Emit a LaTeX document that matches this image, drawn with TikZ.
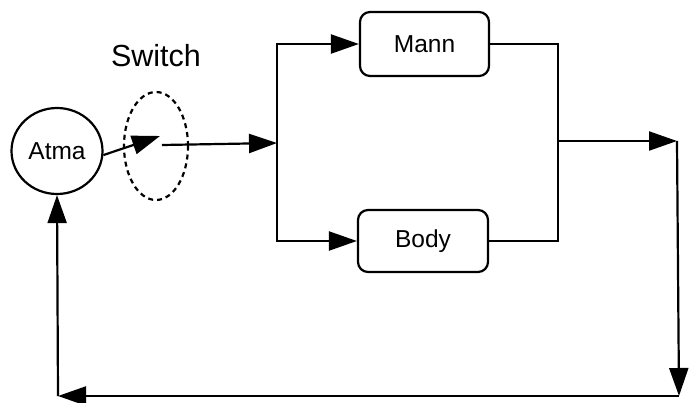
\documentclass[tikz,border=0pt]{standalone}
\usepackage{fontspec}
\setmainfont{Liberation Sans}
\usetikzlibrary{arrows.meta,shapes.geometric}
\begin{document}
\begin{tikzpicture}[x=1pt,y=-1pt,
  line width=2.2pt,
  arr/.style={-{Triangle[length=28pt,width=19pt]}},
  lbl/.style={font=\fontsize{24.5}{28}\selectfont},
  boxst/.style={draw,rounded corners=10pt,lbl,inner sep=0pt},
  every node/.style={line width=2.2pt}]
\useasboundingbox (0,0) rectangle (696,402);
\node[draw,ellipse,minimum width=91pt,minimum height=86pt,inner sep=0pt,lbl] (atma) at (57,151) {Atma};
\node[draw,ellipse,dash pattern=on 5pt off 4pt,minimum width=64pt,minimum height=108pt,inner sep=0pt] (sw) at (156,146) {};
\node[font=\fontsize{30.5}{34}\selectfont] (swlbl) at (156,56) {Switch};
\node[boxst,minimum width=129pt,minimum height=64pt] (mann) at (424.5,44) {Mann};
\node[boxst,minimum width=130pt,minimum height=62pt] (body) at (423,241) {Body};
\coordinate (swtip) at (160,136);
\coordinate (swout) at (162,145);
\coordinate (split) at (277,143);
\coordinate (join) at (558,141);
\coordinate (rt) at (677,141);
\coordinate (br) at (679,396);
\coordinate (bl) at (58,396);
\draw[arr] (atma.-5) -- (swtip);
\draw[arr] (swout) -- (split);
\draw[arr] (split) |- (mann.west);
\draw[arr] (split) |- (body.west);
\draw (mann.east) -| (join);
\draw (body.east) -| (join);
\draw[arr] (join) -- (rt);
\draw[arr] (rt) -- (br);
\draw[arr] (br) -- (bl);
\draw[arr] (bl) -- (atma.south);
\end{tikzpicture}
\end{document}
